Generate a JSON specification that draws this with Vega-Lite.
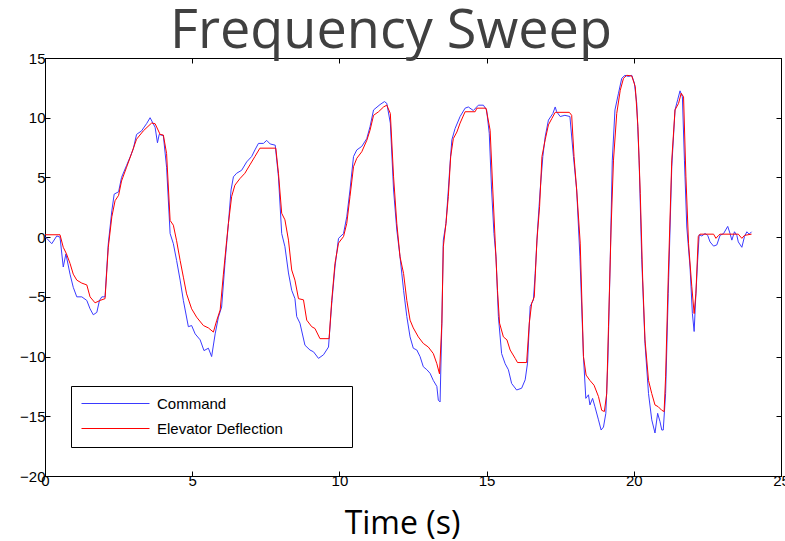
{
  "$schema": "https://vega.github.io/schema/vega-lite/v6.json",
  "width": 736,
  "height": 418,
  "autosize": "none",
  "padding": {"left": 45, "top": 58, "right": 4, "bottom": 65},
  "background": "white",
  "title": {"text": "Frequency Sweep", "font": "Open Sans", "fontSize": 54, "fontWeight": "normal", "color": "#404040", "anchor": "middle", "dx": -22, "offset": -51, "baseline": "alphabetic"},
  "config": {"view": {"stroke": "black", "strokeWidth": 1}},
  "data": {"values": [
    {"s":"Command","t":0,"v":0.05},{"s":"Command","t":0.23,"v":-0.55},{"s":"Command","t":0.4,"v":0.1},{"s":"Command","t":0.51,"v":0},{"s":"Command","t":0.62,"v":-2.5},{"s":"Command","t":0.71,"v":-1.4},{"s":"Command","t":0.85,"v":-3.1},{"s":"Command","t":0.96,"v":-4.2},{"s":"Command","t":1.08,"v":-5.0},{"s":"Command","t":1.25,"v":-5.0},{"s":"Command","t":1.42,"v":-5.3},{"s":"Command","t":1.53,"v":-6.0},{"s":"Command","t":1.64,"v":-6.5},{"s":"Command","t":1.76,"v":-6.3},{"s":"Command","t":1.85,"v":-5.3},{"s":"Command","t":1.93,"v":-5.0},{"s":"Command","t":2.04,"v":-5.0},{"s":"Command","t":2.15,"v":-0.55},{"s":"Command","t":2.27,"v":2.2},{"s":"Command","t":2.35,"v":3.6},{"s":"Command","t":2.5,"v":3.8},{"s":"Command","t":2.6,"v":5.0},{"s":"Command","t":2.77,"v":6.0},{"s":"Command","t":2.89,"v":6.7},{"s":"Command","t":3.0,"v":7.4},{"s":"Command","t":3.11,"v":8.6},{"s":"Command","t":3.28,"v":8.9},{"s":"Command","t":3.45,"v":9.5},{"s":"Command","t":3.57,"v":10.0},{"s":"Command","t":3.74,"v":9.2},{"s":"Command","t":3.82,"v":7.9},{"s":"Command","t":3.88,"v":8.6},{"s":"Command","t":4.02,"v":8.5},{"s":"Command","t":4.13,"v":5.85},{"s":"Command","t":4.25,"v":0.3},{"s":"Command","t":4.36,"v":-0.55},{"s":"Command","t":4.47,"v":-1.95},{"s":"Command","t":4.59,"v":-3.6},{"s":"Command","t":4.7,"v":-5.3},{"s":"Command","t":4.87,"v":-7.5},{"s":"Command","t":4.98,"v":-7.4},{"s":"Command","t":5.1,"v":-8.1},{"s":"Command","t":5.27,"v":-8.6},{"s":"Command","t":5.4,"v":-9.5},{"s":"Command","t":5.55,"v":-9.3},{"s":"Command","t":5.66,"v":-10.0},{"s":"Command","t":5.78,"v":-8.1},{"s":"Command","t":5.89,"v":-6.7},{"s":"Command","t":6.0,"v":-5.85},{"s":"Command","t":6.12,"v":-1.95},{"s":"Command","t":6.23,"v":1.15},{"s":"Command","t":6.32,"v":3.95},{"s":"Command","t":6.4,"v":5.05},{"s":"Command","t":6.51,"v":5.35},{"s":"Command","t":6.68,"v":5.6},{"s":"Command","t":6.85,"v":6.3},{"s":"Command","t":7.02,"v":6.75},{"s":"Command","t":7.13,"v":7.3},{"s":"Command","t":7.25,"v":7.85},{"s":"Command","t":7.42,"v":7.85},{"s":"Command","t":7.53,"v":8.1},{"s":"Command","t":7.65,"v":7.8},{"s":"Command","t":7.82,"v":7.7},{"s":"Command","t":7.93,"v":5.05},{"s":"Command","t":8.04,"v":0.3},{"s":"Command","t":8.15,"v":-0.8},{"s":"Command","t":8.27,"v":-3.0},{"s":"Command","t":8.38,"v":-4.45},{"s":"Command","t":8.49,"v":-5.15},{"s":"Command","t":8.55,"v":-6.65},{"s":"Command","t":8.66,"v":-7.2},{"s":"Command","t":8.83,"v":-9.05},{"s":"Command","t":9.0,"v":-9.45},{"s":"Command","t":9.12,"v":-9.6},{"s":"Command","t":9.29,"v":-10.15},{"s":"Command","t":9.46,"v":-9.85},{"s":"Command","t":9.63,"v":-9.2},{"s":"Command","t":9.74,"v":-5.55},{"s":"Command","t":9.85,"v":-2.5},{"s":"Command","t":9.97,"v":-0.1},{"s":"Command","t":10.14,"v":0.3},{"s":"Command","t":10.25,"v":1.7},{"s":"Command","t":10.36,"v":3.95},{"s":"Command","t":10.48,"v":6.75},{"s":"Command","t":10.59,"v":7.3},{"s":"Command","t":10.76,"v":7.6},{"s":"Command","t":10.93,"v":8.25},{"s":"Command","t":11.04,"v":9.25},{"s":"Command","t":11.16,"v":10.65},{"s":"Command","t":11.38,"v":11.1},{"s":"Command","t":11.53,"v":11.35},{"s":"Command","t":11.61,"v":11.2},{"s":"Command","t":11.73,"v":9.55},{"s":"Command","t":11.84,"v":3.95},{"s":"Command","t":11.95,"v":0.6},{"s":"Command","t":12.06,"v":-1.65},{"s":"Command","t":12.18,"v":-4.45},{"s":"Command","t":12.29,"v":-6.65},{"s":"Command","t":12.4,"v":-8.35},{"s":"Command","t":12.51,"v":-9.3},{"s":"Command","t":12.63,"v":-9.45},{"s":"Command","t":12.74,"v":-10.0},{"s":"Command","t":12.85,"v":-10.85},{"s":"Command","t":12.97,"v":-11.1},{"s":"Command","t":13.08,"v":-11.4},{"s":"Command","t":13.19,"v":-12.0},{"s":"Command","t":13.31,"v":-12.5},{"s":"Command","t":13.36,"v":-13.65},{"s":"Command","t":13.42,"v":-13.8},{"s":"Command","t":13.48,"v":-7.2},{"s":"Command","t":13.53,"v":-0.25},{"s":"Command","t":13.62,"v":1.15},{"s":"Command","t":13.7,"v":3.95},{"s":"Command","t":13.76,"v":6.2},{"s":"Command","t":13.82,"v":8.15},{"s":"Command","t":13.93,"v":9.1},{"s":"Command","t":14.1,"v":10.1},{"s":"Command","t":14.27,"v":10.8},{"s":"Command","t":14.38,"v":10.9},{"s":"Command","t":14.55,"v":10.6},{"s":"Command","t":14.72,"v":11.05},{"s":"Command","t":14.89,"v":11.05},{"s":"Command","t":15.0,"v":10.65},{"s":"Command","t":15.09,"v":8.7},{"s":"Command","t":15.17,"v":3.95},{"s":"Command","t":15.25,"v":0.3},{"s":"Command","t":15.32,"v":-1.65},{"s":"Command","t":15.4,"v":-6.65},{"s":"Command","t":15.51,"v":-9.75},{"s":"Command","t":15.63,"v":-10.6},{"s":"Command","t":15.74,"v":-11.1},{"s":"Command","t":15.85,"v":-12.25},{"s":"Command","t":16.02,"v":-12.8},{"s":"Command","t":16.19,"v":-12.65},{"s":"Command","t":16.31,"v":-11.95},{"s":"Command","t":16.39,"v":-10.55},{"s":"Command","t":16.48,"v":-5.8},{"s":"Command","t":16.59,"v":-5.25},{"s":"Command","t":16.65,"v":-3.05},{"s":"Command","t":16.73,"v":0.6},{"s":"Command","t":16.82,"v":3.95},{"s":"Command","t":16.91,"v":6.75},{"s":"Command","t":16.99,"v":8.4},{"s":"Command","t":17.1,"v":9.8},{"s":"Command","t":17.25,"v":10.35},{"s":"Command","t":17.33,"v":10.9},{"s":"Command","t":17.38,"v":10.5},{"s":"Command","t":17.5,"v":10.1},{"s":"Command","t":17.66,"v":10.2},{"s":"Command","t":17.83,"v":10.1},{"s":"Command","t":17.95,"v":6.75},{"s":"Command","t":18.06,"v":3.95},{"s":"Command","t":18.17,"v":-1.65},{"s":"Command","t":18.29,"v":-10.0},{"s":"Command","t":18.37,"v":-13.5},{"s":"Command","t":18.46,"v":-13.2},{"s":"Command","t":18.51,"v":-14.05},{"s":"Command","t":18.6,"v":-13.5},{"s":"Command","t":18.68,"v":-14.2},{"s":"Command","t":18.8,"v":-15.3},{"s":"Command","t":18.89,"v":-16.15},{"s":"Command","t":18.97,"v":-15.9},{"s":"Command","t":19.05,"v":-14.75},{"s":"Command","t":19.12,"v":-10.3},{"s":"Command","t":19.2,"v":-1.9},{"s":"Command","t":19.27,"v":6.45},{"s":"Command","t":19.36,"v":10.65},{"s":"Command","t":19.48,"v":12.05},{"s":"Command","t":19.59,"v":13.3},{"s":"Command","t":19.7,"v":13.55},{"s":"Command","t":19.82,"v":13.45},{"s":"Command","t":19.93,"v":13.55},{"s":"Command","t":20.02,"v":12.9},{"s":"Command","t":20.1,"v":11.2},{"s":"Command","t":20.18,"v":6.45},{"s":"Command","t":20.27,"v":-1.9},{"s":"Command","t":20.38,"v":-8.9},{"s":"Command","t":20.5,"v":-13.1},{"s":"Command","t":20.61,"v":-15.3},{"s":"Command","t":20.72,"v":-16.4},{"s":"Command","t":20.81,"v":-14.75},{"s":"Command","t":20.89,"v":-15.45},{"s":"Command","t":20.95,"v":-16.15},{"s":"Command","t":21.0,"v":-16.15},{"s":"Command","t":21.08,"v":-13.1},{"s":"Command","t":21.17,"v":-4.7},{"s":"Command","t":21.29,"v":5.9},{"s":"Command","t":21.4,"v":10.65},{"s":"Command","t":21.49,"v":11.5},{"s":"Command","t":21.57,"v":12.25},{"s":"Command","t":21.65,"v":11.75},{"s":"Command","t":21.72,"v":6.45},{"s":"Command","t":21.8,"v":0.85},{"s":"Command","t":21.91,"v":-2.5},{"s":"Command","t":21.99,"v":-6.4},{"s":"Command","t":22.05,"v":-7.9},{"s":"Command","t":22.1,"v":-5.25},{"s":"Command","t":22.17,"v":-1.9},{"s":"Command","t":22.22,"v":0.2},{"s":"Command","t":22.31,"v":0.1},{"s":"Command","t":22.42,"v":0.3},{"s":"Command","t":22.51,"v":0.15},{"s":"Command","t":22.59,"v":-0.4},{"s":"Command","t":22.71,"v":-0.75},{"s":"Command","t":22.82,"v":-0.65},{"s":"Command","t":22.93,"v":0.15},{"s":"Command","t":23.05,"v":0.3},{"s":"Command","t":23.19,"v":0.9},{"s":"Command","t":23.27,"v":0.3},{"s":"Command","t":23.33,"v":-0.25},{"s":"Command","t":23.42,"v":0.45},{"s":"Command","t":23.5,"v":0.15},{"s":"Command","t":23.55,"v":-0.4},{"s":"Command","t":23.67,"v":-0.85},{"s":"Command","t":23.76,"v":0.05},{"s":"Command","t":23.84,"v":0.45},{"s":"Command","t":23.92,"v":0.25},{"s":"Command","t":24.0,"v":0.45},
    {"s":"Elevator Deflection","t":0,"v":0.2},{"s":"Elevator Deflection","t":0.51,"v":0.2},{"s":"Elevator Deflection","t":0.62,"v":-0.85},{"s":"Elevator Deflection","t":0.73,"v":-1.4},{"s":"Elevator Deflection","t":0.85,"v":-2.2},{"s":"Elevator Deflection","t":0.96,"v":-3.1},{"s":"Elevator Deflection","t":1.08,"v":-3.6},{"s":"Elevator Deflection","t":1.25,"v":-3.85},{"s":"Elevator Deflection","t":1.42,"v":-4.0},{"s":"Elevator Deflection","t":1.53,"v":-5.0},{"s":"Elevator Deflection","t":1.7,"v":-5.5},{"s":"Elevator Deflection","t":1.87,"v":-5.3},{"s":"Elevator Deflection","t":2.04,"v":-5.15},{"s":"Elevator Deflection","t":2.15,"v":-0.85},{"s":"Elevator Deflection","t":2.27,"v":1.7},{"s":"Elevator Deflection","t":2.38,"v":3.05},{"s":"Elevator Deflection","t":2.5,"v":3.5},{"s":"Elevator Deflection","t":2.6,"v":4.7},{"s":"Elevator Deflection","t":2.77,"v":5.85},{"s":"Elevator Deflection","t":2.94,"v":7.0},{"s":"Elevator Deflection","t":3.11,"v":8.2},{"s":"Elevator Deflection","t":3.34,"v":8.9},{"s":"Elevator Deflection","t":3.62,"v":9.55},{"s":"Elevator Deflection","t":3.74,"v":9.5},{"s":"Elevator Deflection","t":3.91,"v":8.6},{"s":"Elevator Deflection","t":4.02,"v":8.55},{"s":"Elevator Deflection","t":4.13,"v":7.0},{"s":"Elevator Deflection","t":4.25,"v":1.4},{"s":"Elevator Deflection","t":4.36,"v":1.0},{"s":"Elevator Deflection","t":4.47,"v":-0.3},{"s":"Elevator Deflection","t":4.59,"v":-1.95},{"s":"Elevator Deflection","t":4.7,"v":-3.35},{"s":"Elevator Deflection","t":4.81,"v":-4.75},{"s":"Elevator Deflection","t":4.98,"v":-6.0},{"s":"Elevator Deflection","t":5.15,"v":-6.7},{"s":"Elevator Deflection","t":5.38,"v":-7.4},{"s":"Elevator Deflection","t":5.55,"v":-7.6},{"s":"Elevator Deflection","t":5.72,"v":-7.95},{"s":"Elevator Deflection","t":5.83,"v":-7.0},{"s":"Elevator Deflection","t":5.95,"v":-6.1},{"s":"Elevator Deflection","t":6.06,"v":-3.1},{"s":"Elevator Deflection","t":6.17,"v":-0.3},{"s":"Elevator Deflection","t":6.23,"v":1.15},{"s":"Elevator Deflection","t":6.34,"v":3.4},{"s":"Elevator Deflection","t":6.45,"v":4.35},{"s":"Elevator Deflection","t":6.62,"v":4.9},{"s":"Elevator Deflection","t":6.79,"v":5.35},{"s":"Elevator Deflection","t":6.96,"v":6.05},{"s":"Elevator Deflection","t":7.13,"v":6.75},{"s":"Elevator Deflection","t":7.3,"v":7.45},{"s":"Elevator Deflection","t":7.84,"v":7.45},{"s":"Elevator Deflection","t":7.93,"v":5.35},{"s":"Elevator Deflection","t":8.04,"v":2.0},{"s":"Elevator Deflection","t":8.15,"v":1.45},{"s":"Elevator Deflection","t":8.27,"v":-0.25},{"s":"Elevator Deflection","t":8.38,"v":-2.75},{"s":"Elevator Deflection","t":8.49,"v":-3.6},{"s":"Elevator Deflection","t":8.61,"v":-5.15},{"s":"Elevator Deflection","t":8.78,"v":-5.25},{"s":"Elevator Deflection","t":8.89,"v":-6.95},{"s":"Elevator Deflection","t":9.06,"v":-7.5},{"s":"Elevator Deflection","t":9.17,"v":-7.65},{"s":"Elevator Deflection","t":9.34,"v":-8.5},{"s":"Elevator Deflection","t":9.65,"v":-8.5},{"s":"Elevator Deflection","t":9.74,"v":-5.3},{"s":"Elevator Deflection","t":9.85,"v":-2.2},{"s":"Elevator Deflection","t":9.97,"v":-0.5},{"s":"Elevator Deflection","t":10.14,"v":0.05},{"s":"Elevator Deflection","t":10.25,"v":1.15},{"s":"Elevator Deflection","t":10.36,"v":3.4},{"s":"Elevator Deflection","t":10.48,"v":5.9},{"s":"Elevator Deflection","t":10.59,"v":6.6},{"s":"Elevator Deflection","t":10.76,"v":7.15},{"s":"Elevator Deflection","t":10.93,"v":8.1},{"s":"Elevator Deflection","t":11.04,"v":8.95},{"s":"Elevator Deflection","t":11.16,"v":10.2},{"s":"Elevator Deflection","t":11.33,"v":10.5},{"s":"Elevator Deflection","t":11.5,"v":10.9},{"s":"Elevator Deflection","t":11.61,"v":11.05},{"s":"Elevator Deflection","t":11.73,"v":10.35},{"s":"Elevator Deflection","t":11.84,"v":5.05},{"s":"Elevator Deflection","t":11.95,"v":1.15},{"s":"Elevator Deflection","t":12.06,"v":-1.65},{"s":"Elevator Deflection","t":12.18,"v":-3.05},{"s":"Elevator Deflection","t":12.29,"v":-5.3},{"s":"Elevator Deflection","t":12.4,"v":-6.95},{"s":"Elevator Deflection","t":12.51,"v":-7.6},{"s":"Elevator Deflection","t":12.68,"v":-8.35},{"s":"Elevator Deflection","t":12.85,"v":-8.9},{"s":"Elevator Deflection","t":13.02,"v":-9.2},{"s":"Elevator Deflection","t":13.19,"v":-9.75},{"s":"Elevator Deflection","t":13.31,"v":-10.6},{"s":"Elevator Deflection","t":13.4,"v":-11.45},{"s":"Elevator Deflection","t":13.48,"v":-7.2},{"s":"Elevator Deflection","t":13.53,"v":-0.8},{"s":"Elevator Deflection","t":13.62,"v":1.15},{"s":"Elevator Deflection","t":13.7,"v":3.4},{"s":"Elevator Deflection","t":13.78,"v":6.75},{"s":"Elevator Deflection","t":13.87,"v":8.25},{"s":"Elevator Deflection","t":13.99,"v":8.8},{"s":"Elevator Deflection","t":14.1,"v":9.55},{"s":"Elevator Deflection","t":14.27,"v":10.5},{"s":"Elevator Deflection","t":14.61,"v":10.5},{"s":"Elevator Deflection","t":14.67,"v":10.8},{"s":"Elevator Deflection","t":14.98,"v":10.8},{"s":"Elevator Deflection","t":15.12,"v":8.95},{"s":"Elevator Deflection","t":15.21,"v":3.95},{"s":"Elevator Deflection","t":15.29,"v":-0.25},{"s":"Elevator Deflection","t":15.37,"v":-4.45},{"s":"Elevator Deflection","t":15.44,"v":-7.2},{"s":"Elevator Deflection","t":15.57,"v":-8.35},{"s":"Elevator Deflection","t":15.69,"v":-8.6},{"s":"Elevator Deflection","t":15.8,"v":-9.45},{"s":"Elevator Deflection","t":15.97,"v":-10.15},{"s":"Elevator Deflection","t":16.05,"v":-10.5},{"s":"Elevator Deflection","t":16.36,"v":-10.5},{"s":"Elevator Deflection","t":16.45,"v":-7.2},{"s":"Elevator Deflection","t":16.53,"v":-5.55},{"s":"Elevator Deflection","t":16.62,"v":-5.0},{"s":"Elevator Deflection","t":16.71,"v":-0.25},{"s":"Elevator Deflection","t":16.8,"v":2.55},{"s":"Elevator Deflection","t":16.88,"v":6.75},{"s":"Elevator Deflection","t":16.99,"v":8.15},{"s":"Elevator Deflection","t":17.1,"v":9.4},{"s":"Elevator Deflection","t":17.22,"v":9.95},{"s":"Elevator Deflection","t":17.33,"v":10.45},{"s":"Elevator Deflection","t":17.81,"v":10.45},{"s":"Elevator Deflection","t":17.89,"v":10.2},{"s":"Elevator Deflection","t":17.97,"v":6.75},{"s":"Elevator Deflection","t":18.06,"v":3.95},{"s":"Elevator Deflection","t":18.18,"v":-0.5},{"s":"Elevator Deflection","t":18.29,"v":-10.0},{"s":"Elevator Deflection","t":18.38,"v":-11.55},{"s":"Elevator Deflection","t":18.51,"v":-12.0},{"s":"Elevator Deflection","t":18.65,"v":-12.4},{"s":"Elevator Deflection","t":18.8,"v":-13.35},{"s":"Elevator Deflection","t":18.91,"v":-14.5},{"s":"Elevator Deflection","t":19.0,"v":-14.6},{"s":"Elevator Deflection","t":19.08,"v":-13.1},{"s":"Elevator Deflection","t":19.14,"v":-7.5},{"s":"Elevator Deflection","t":19.23,"v":0.85},{"s":"Elevator Deflection","t":19.31,"v":6.45},{"s":"Elevator Deflection","t":19.42,"v":10.35},{"s":"Elevator Deflection","t":19.54,"v":12.3},{"s":"Elevator Deflection","t":19.65,"v":13.3},{"s":"Elevator Deflection","t":19.76,"v":13.55},{"s":"Elevator Deflection","t":19.93,"v":13.5},{"s":"Elevator Deflection","t":20.05,"v":12.6},{"s":"Elevator Deflection","t":20.14,"v":9.25},{"s":"Elevator Deflection","t":20.22,"v":3.65},{"s":"Elevator Deflection","t":20.3,"v":-3.35},{"s":"Elevator Deflection","t":20.38,"v":-8.6},{"s":"Elevator Deflection","t":20.5,"v":-12.0},{"s":"Elevator Deflection","t":20.61,"v":-13.1},{"s":"Elevator Deflection","t":20.72,"v":-14.05},{"s":"Elevator Deflection","t":20.83,"v":-14.2},{"s":"Elevator Deflection","t":20.95,"v":-14.5},{"s":"Elevator Deflection","t":21.03,"v":-14.6},{"s":"Elevator Deflection","t":21.08,"v":-11.7},{"s":"Elevator Deflection","t":21.17,"v":-3.35},{"s":"Elevator Deflection","t":21.29,"v":6.45},{"s":"Elevator Deflection","t":21.4,"v":10.65},{"s":"Elevator Deflection","t":21.52,"v":11.2},{"s":"Elevator Deflection","t":21.61,"v":12.05},{"s":"Elevator Deflection","t":21.69,"v":11.75},{"s":"Elevator Deflection","t":21.77,"v":5.05},{"s":"Elevator Deflection","t":21.86,"v":-0.55},{"s":"Elevator Deflection","t":21.97,"v":-4.15},{"s":"Elevator Deflection","t":22.05,"v":-6.4},{"s":"Elevator Deflection","t":22.11,"v":-4.7},{"s":"Elevator Deflection","t":22.19,"v":0.05},{"s":"Elevator Deflection","t":22.25,"v":0.25},{"s":"Elevator Deflection","t":22.71,"v":0.25},{"s":"Elevator Deflection","t":22.79,"v":-0.1},{"s":"Elevator Deflection","t":22.88,"v":0.15},{"s":"Elevator Deflection","t":22.93,"v":0.25},{"s":"Elevator Deflection","t":23.55,"v":0.25},{"s":"Elevator Deflection","t":23.67,"v":-0.1},{"s":"Elevator Deflection","t":23.76,"v":0.15},{"s":"Elevator Deflection","t":24.0,"v":0.25}
  ]},
  "layer": [
    {
      "mark": {"type": "line", "opacity": 0},
      "encoding": {
        "x": {"field": "t", "type": "quantitative", "scale": {"domain": [0, 25], "nice": false, "zero": false},
              "axis": {"orient": "top", "values": [0, 5, 10, 15, 20, 25], "labels": false, "title": null, "grid": false, "tickSize": -5, "domainColor": "black", "tickColor": "black"}},
        "y": {"field": "v", "type": "quantitative", "scale": {"domain": [-20, 15], "nice": false, "zero": false},
              "axis": {"orient": "right", "values": [-20, -15, -10, -5, 0, 5, 10, 15], "labels": false, "title": null, "grid": false, "tickSize": -5, "domainColor": "black", "tickColor": "black"}}
      }
    },
    {
      "mark": {"type": "line", "strokeWidth": 1},
      "encoding": {
        "x": {"field": "t", "type": "quantitative", "scale": {"domain": [0, 25], "nice": false, "zero": false},
              "axis": {"orient": "bottom", "values": [0, 5, 10, 15, 20, 25], "grid": false, "tickSize": -5, "labelPadding": 2, "labelFont": "Liberation Sans", "labelFontSize": 15, "labelColor": "black", "labelFlush": false, "domainColor": "black", "tickColor": "black",
                       "title": "Time (s)", "titleFont": "Open Sans", "titleFontSize": 32, "titleFontWeight": "normal", "titleColor": "black", "titleX": 357, "titleY": 57, "titleBaseline": "alphabetic"}},
        "y": {"field": "v", "type": "quantitative", "scale": {"domain": [-20, 15], "nice": false, "zero": false},
              "axis": {"orient": "left", "values": [-20, -15, -10, -5, 0, 5, 10, 15], "grid": false, "tickSize": -5, "labelPadding": 5, "labelFont": "Liberation Sans", "labelFontSize": 15, "labelColor": "black", "labelFlush": false, "domainColor": "black", "tickColor": "black", "title": null}},
        "color": {"field": "s", "type": "nominal",
                  "scale": {"domain": ["Command", "Elevator Deflection"], "range": ["#3a3aff", "#ff0000"]},
                  "legend": {"orient": "none", "legendX": 26, "legendY": 328, "title": null,
                             "symbolType": "stroke", "symbolSize": 4624, "symbolStrokeWidth": 1, "clipHeight": 15,
                             "labelFont": "Liberation Sans", "labelFontSize": 15, "labelColor": "black", "labelOffset": 7, "labelLimit": 400,
                             "labelExpr": "datum.label + '              \u200b'",
                             "strokeColor": "black", "fillColor": "white", "padding": 10, "rowPadding": 9}}
      }
    }
  ],
  "resolve": {"axis": {"x": "independent", "y": "independent"}}
}
